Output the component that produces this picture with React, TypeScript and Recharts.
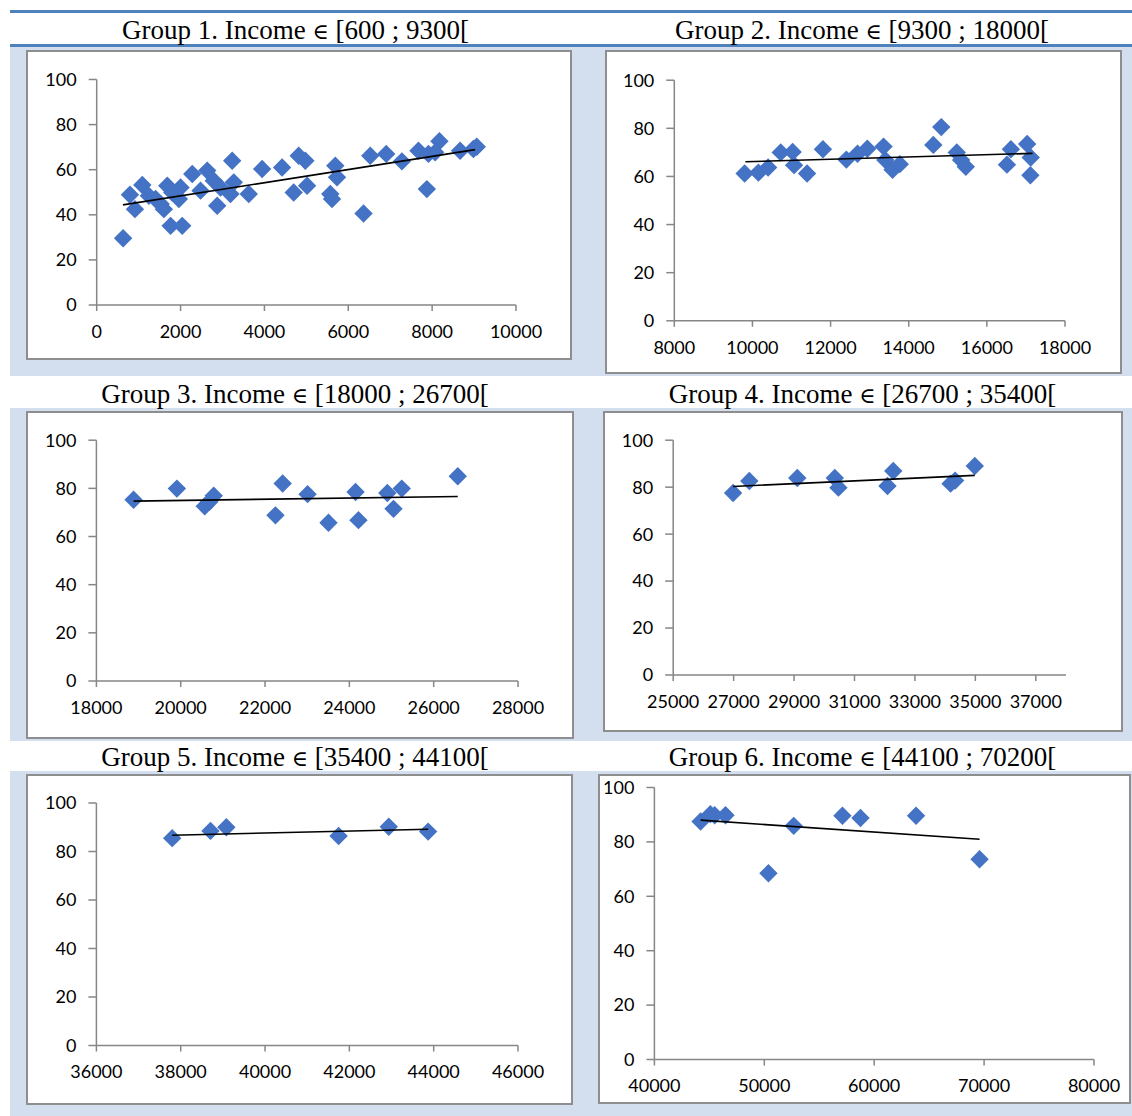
import React from 'react';
import { ScatterChart, Scatter, XAxis, YAxis } from 'recharts';

// ---------------- DATA ----------------
const yTicks = [0, 20, 40, 60, 80, 100];

const g1Title = 'Group 1. Income ∈ [600 ; 9300[';
const g1XTicks = [0, 2000, 4000, 6000, 8000, 10000];
const g1Income = [630, 793, 912, 1088, 1245, 1405, 1524, 1602, 1683, 1802, 1960, 2000, 1762, 2040, 2279, 2476, 2636, 2793, 2874, 2952, 3190, 3269, 3231, 3626, 3945, 4421, 4817, 4976, 4698, 5017, 5690, 5731, 5571, 5612, 6364, 6524, 6905, 7279, 7674, 7874, 7912, 8174, 8071, 8667, 8983, 9064];
const g1Score = [29.6, 48.9, 42.5, 53.2, 48.4, 47, 44.8, 42.5, 52.9, 49.9, 47, 52.1, 35.1, 35.1, 58.1, 50.7, 59.6, 55.1, 44, 52.1, 49.2, 54.4, 64, 49.2, 60.3, 61, 66.2, 64, 49.9, 52.9, 61.8, 56.6, 49.2, 47, 40.6, 66.2, 67, 63.7, 68.4, 51.4, 67, 72.6, 67.7, 68.4, 69.2, 70.2];
const g1TrendIncome = [626, 9024];
const g1TrendScore = [44.4, 68.9];

const g2Title = 'Group 2. Income ∈ [9300 ; 18000[';
const g2XTicks = [8000, 10000, 12000, 14000, 16000, 18000];
const g2Income = [9800, 10152, 10401, 10724, 11029, 11066, 11398, 11804, 12404, 12690, 12940, 13356, 13402, 13587, 13772, 14630, 14833, 15230, 15341, 15461, 16514, 16615, 17031, 17123, 17114];
const g2Score = [61.2, 61.6, 63.7, 70, 70.2, 64.7, 61.2, 71.3, 67, 69.4, 71.5, 72.4, 66.8, 62.8, 65.1, 73.1, 80.5, 70, 66.8, 64, 64.9, 71.3, 73.5, 67.9, 60.5];
const g2TrendIncome = [9819, 17169];
const g2TrendScore = [66.1, 69.6];

const g3Title = 'Group 3. Income ∈ [18000 ; 26700[';
const g3XTicks = [18000, 20000, 22000, 24000, 26000, 28000];
const g3Income = [18882, 19909, 20569, 20680, 20783, 22247, 22418, 23009, 23505, 24147, 24216, 24901, 25047, 25243, 26571];
const g3Score = [75.3, 79.9, 72.6, 74.4, 76.9, 68.8, 82, 77.6, 65.7, 78.5, 66.8, 78.1, 71.5, 79.9, 85];
const g3TrendIncome = [18882, 26571];
const g3TrendScore = [74.7, 76.6];

const g4Title = 'Group 4. Income ∈ [26700 ; 35400[';
const g4XTicks = [25000, 27000, 29000, 31000, 33000, 35000, 37000];
const g4Income = [26982, 27519, 29107, 30349, 30469, 32092, 32283, 34180, 34330, 34981];
const g4Score = [77.5, 82.6, 83.9, 83.9, 79.8, 80.5, 86.9, 81.5, 82.8, 89];
const g4TrendIncome = [26982, 34981];
const g4TrendScore = [80.3, 85];

const g5Title = 'Group 5. Income ∈ [35400 ; 44100[';
const g5XTicks = [36000, 38000, 40000, 42000, 44000, 46000];
const g5Income = [37798, 38706, 39082, 41745, 42935, 43868];
const g5Score = [85.5, 88.5, 90, 86.4, 90.2, 88.2];
const g5TrendIncome = [37798, 43868];
const g5TrendScore = [86.7, 89.2];

const g6Title = 'Group 6. Income ∈ [44100 ; 70200[';
const g6XTicks = [40000, 50000, 60000, 70000, 80000];
const g6Income = [44204, 45090, 45484, 46470, 50377, 52676, 57110, 58752, 63809, 69589];
const g6Score = [87.5, 90.2, 89.8, 89.8, 68.5, 85.9, 89.6, 88.8, 89.6, 73.6];
const g6TrendIncome = [44204, 69589];
const g6TrendScore = [88, 81];

// ---------------- HELPERS ----------------
const toPoints = (xs: number[], ys: number[]) => xs.map((x, i) => ({ x, y: ys[i] }));

const BLUE = '#4472C4';
const AXIS = '#868686';
const SHADE = '#D3DFEE';
const RULE = '#4F81BD';

const Diamond = (props: any) => {
  const { cx, cy } = props;
  if (cx == null || cy == null) return <g />;
  const r = 9.2;
  return <path d={`M${cx},${cy - r}L${cx + r},${cy}L${cx},${cy + r}L${cx - r},${cy}Z`} fill={BLUE} />;
};

const NoShape = () => <g />;

type PanelProps = {
  box: { x: number; y: number; w: number; h: number };
  plot: { l: number; r: number; t: number; b: number };
  xDomain: [number, number];
  xTicks: number[];
  points: { x: number; y: number }[];
  trend: { x: number; y: number }[];
};

const Y_AXIS_W = 50;
const X_AXIS_H = 30;
const tickStyle = { fill: '#000', fontSize: 18, fontFamily: 'Lato, "Open Sans", sans-serif' };

const Panel = ({ box, plot, xDomain, xTicks, points, trend }: PanelProps) => {
  const margin = {
    left: plot.l - box.x - Y_AXIS_W,
    right: box.x + box.w - plot.r,
    top: plot.t - box.y,
    bottom: box.y + box.h - plot.b - X_AXIS_H,
  };
  return (
    <div
      style={{
        position: 'absolute',
        left: box.x,
        top: box.y,
        width: box.w,
        height: box.h,
        background: '#fff',
        border: '2px solid #8e8e8e',
        boxSizing: 'border-box',
      }}
    >
      <div style={{ position: 'absolute', left: -2, top: -2 }}>
        <ScatterChart width={box.w} height={box.h} margin={margin}>
          <XAxis
            type="number"
            dataKey="x"
            domain={xDomain}
            ticks={xTicks}
            interval={0}
            height={X_AXIS_H}
            tickSize={6}
            tickMargin={14}
            tick={tickStyle}
            axisLine={{ stroke: AXIS, strokeWidth: 1.5 }}
            tickLine={{ stroke: AXIS, strokeWidth: 1.5 }}
          />
          <YAxis
            type="number"
            dataKey="y"
            domain={[0, 100]}
            ticks={yTicks}
            interval={0}
            width={Y_AXIS_W}
            tickSize={8}
            tickMargin={12}
            tick={tickStyle}
            axisLine={{ stroke: AXIS, strokeWidth: 1.5 }}
            tickLine={{ stroke: AXIS, strokeWidth: 1.5 }}
          />
          <Scatter data={points} shape={Diamond} isAnimationActive={false} />
          <Scatter
            data={trend}
            shape={NoShape}
            line={{ stroke: '#000', strokeWidth: 1.6 }}
            isAnimationActive={false}
          />
        </ScatterChart>
      </div>
    </div>
  );
};

const Title = ({ text, cx, baseline }: { text: string; cx: number; baseline: number }) => {
  const [before, after] = text.split('∈');
  return (
    <div
      style={{
        position: 'absolute',
        left: cx - 280,
        width: 560,
        top: baseline - 22.6,
        fontFamily: '"Liberation Serif", "Times New Roman", serif',
        fontSize: 27,
        lineHeight: '27px',
        textAlign: 'center',
        color: '#000',
        whiteSpace: 'nowrap',
      }}
    >
      {before}
      <span style={{ fontFamily: '"DejaVu Serif", serif', fontSize: 22 }}>∈</span>
      {after}
    </div>
  );
};

export default function App() {
  return (
    <div
      style={{
        position: 'absolute',
        left: 0,
        top: 0,
        width: 1132,
        height: 1116,
        background: '#fff',
        overflow: 'hidden',
      }}
    >
      {/* shading bands */}
      <div style={{ position: 'absolute', left: 10, top: 47, width: 1122, height: 329, background: SHADE }} />
      <div style={{ position: 'absolute', left: 10, top: 408, width: 1122, height: 333, background: SHADE }} />
      <div style={{ position: 'absolute', left: 10, top: 771, width: 1122, height: 345, background: SHADE }} />
      {/* rules */}
      <div style={{ position: 'absolute', left: 10, top: 10, width: 1122, height: 3, background: RULE }} />
      <div style={{ position: 'absolute', left: 10, top: 44, width: 1122, height: 3, background: RULE }} />

      <Title text={g1Title} cx={295.5} baseline={39.8} />
      <Title text={g2Title} cx={862} baseline={39.8} />
      <Title text={g3Title} cx={295} baseline={403.4} />
      <Title text={g4Title} cx={862.5} baseline={403.4} />
      <Title text={g5Title} cx={295} baseline={767} />
      <Title text={g6Title} cx={862.5} baseline={767} />

      <Panel
        box={{ x: 26, y: 50, w: 546, h: 310 }}
        plot={{ l: 96.7, r: 516, t: 79.5, b: 305 }}
        xDomain={[0, 10000]}
        xTicks={g1XTicks}
        points={toPoints(g1Income, g1Score)}
        trend={toPoints(g1TrendIncome, g1TrendScore)}
      />
      <Panel
        box={{ x: 605, y: 50, w: 517, h: 324 }}
        plot={{ l: 674.3, r: 1065, t: 80.2, b: 320.8 }}
        xDomain={[8000, 18000]}
        xTicks={g2XTicks}
        points={toPoints(g2Income, g2Score)}
        trend={toPoints(g2TrendIncome, g2TrendScore)}
      />
      <Panel
        box={{ x: 26, y: 411, w: 548, h: 328 }}
        plot={{ l: 96.4, r: 518, t: 440.2, b: 681 }}
        xDomain={[18000, 28000]}
        xTicks={g3XTicks}
        points={toPoints(g3Income, g3Score)}
        trend={toPoints(g3TrendIncome, g3TrendScore)}
      />
      <Panel
        box={{ x: 603, y: 411, w: 520, h: 321 }}
        plot={{ l: 673.2, r: 1066, t: 440.2, b: 675 }}
        xDomain={[25000, 38000]}
        xTicks={g4XTicks}
        points={toPoints(g4Income, g4Score)}
        trend={toPoints(g4TrendIncome, g4TrendScore)}
      />
      <Panel
        box={{ x: 26, y: 774, w: 547, h: 331 }}
        plot={{ l: 96.4, r: 518, t: 803, b: 1045.5 }}
        xDomain={[36000, 46000]}
        xTicks={g5XTicks}
        points={toPoints(g5Income, g5Score)}
        trend={toPoints(g5TrendIncome, g5TrendScore)}
      />
      <Panel
        box={{ x: 598, y: 774, w: 533, h: 330 }}
        plot={{ l: 654.4, r: 1094, t: 787.5, b: 1059.5 }}
        xDomain={[40000, 80000]}
        xTicks={g6XTicks}
        points={toPoints(g6Income, g6Score)}
        trend={toPoints(g6TrendIncome, g6TrendScore)}
      />
    </div>
  );
}
